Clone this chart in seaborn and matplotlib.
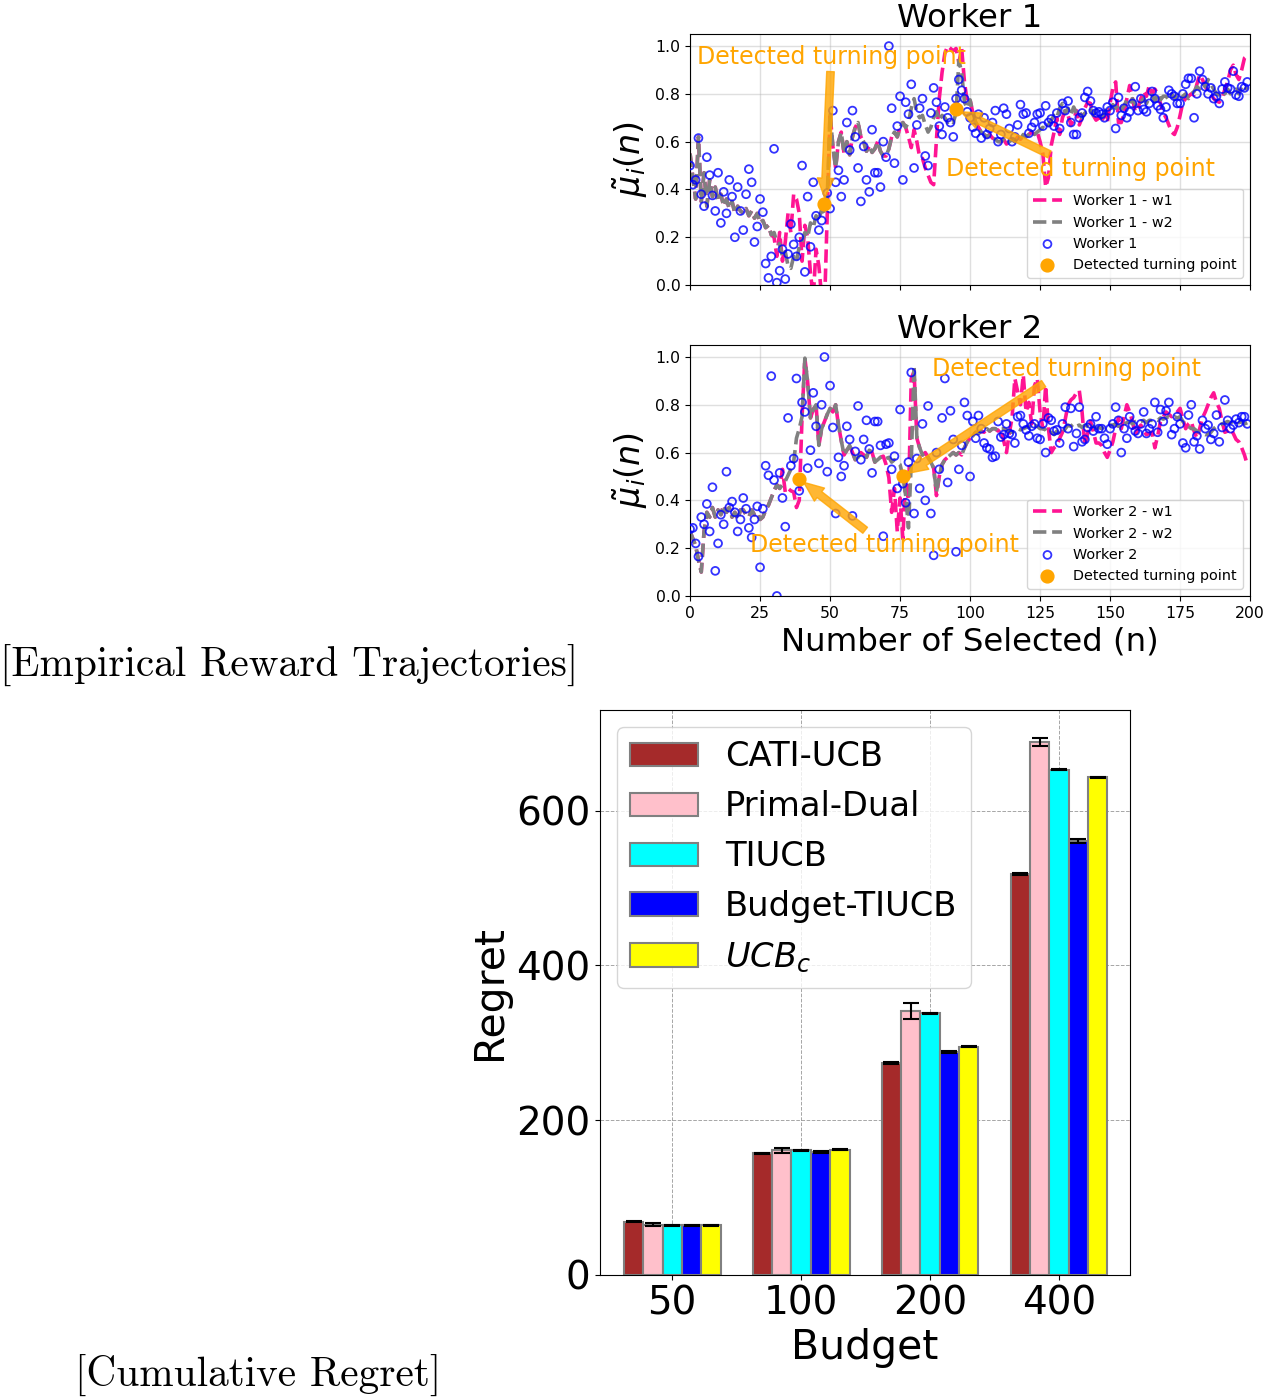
import numpy as np
import pandas as pd
import matplotlib
matplotlib.use("Agg")
import matplotlib.pyplot as plt
import seaborn as sns

# ---------------- data: empirical reward trajectories ----------------
steps = list(range(200))

w1_obs = [0.50, 0.42, 0.44, 0.615, 0.38, 0.33, 0.535, 0.46, 0.375, 0.31,
          0.47, 0.26, 0.39, 0.30, 0.44, 0.37, 0.20, 0.41, 0.31, 0.23,
          0.38, 0.485, 0.43, 0.18, 0.245, 0.36, 0.305, 0.09, 0.03, 0.12,
          0.57, 0.01, 0.06, 0.15, 0.025, 0.13, 0.255, 0.17, 0.12, 0.20,
          0.50, 0.055, 0.37, 0.16, 0.43, 0.29, 0.23, 0.27, 0.33, 0.385,
          0.32, 0.73, 0.43, 0.48, 0.37, 0.44, 0.68, 0.565, 0.73, 0.62,
          0.49, 0.35, 0.58, 0.44, 0.39, 0.65, 0.47, 0.47, 0.41, 0.60,
          0.535, 1.0, 0.74, 0.51, 0.665, 0.79, 0.44, 0.765, 0.715, 0.84,
          0.49, 0.67, 0.74, 0.78, 0.54, 0.50, 0.72, 0.825, 0.765, 0.665,
          0.63, 0.745, 0.70, 0.68, 0.62, 0.78, 0.86, 0.815, 0.78, 0.725,
          0.70, 0.66, 0.635, 0.715, 0.615, 0.70, 0.63, 0.655, 0.68, 0.73,
          0.60, 0.63, 0.74, 0.715, 0.655, 0.60, 0.62, 0.67, 0.755, 0.715,
          0.72, 0.635, 0.66, 0.68, 0.715, 0.72, 0.665, 0.75, 0.68, 0.695,
          0.665, 0.72, 0.655, 0.76, 0.73, 0.77, 0.68, 0.63, 0.63, 0.70,
          0.72, 0.785, 0.81, 0.77, 0.73, 0.72, 0.725, 0.715, 0.70, 0.745,
          0.73, 0.765, 0.655, 0.785, 0.71, 0.74, 0.70, 0.725, 0.76, 0.83,
          0.73, 0.78, 0.735, 0.725, 0.76, 0.81, 0.78, 0.75, 0.735, 0.70,
          0.745, 0.815, 0.80, 0.79, 0.76, 0.76, 0.80, 0.84, 0.865, 0.865,
          0.70, 0.80, 0.895, 0.86, 0.83, 0.80, 0.825, 0.78, 0.79, 0.76,
          0.82, 0.85, 0.825, 0.82, 0.895, 0.795, 0.79, 0.83, 0.825, 0.85]

w1_win2 = [0.55, 0.45, 0.36, 0.62, 0.35, 0.47, 0.33, 0.44, 0.37, 0.41,
           0.35, 0.38, 0.33, 0.36, 0.32, 0.35, 0.30, 0.33, 0.31, 0.30,
           0.32, 0.29, 0.31, 0.28, 0.30, 0.26, 0.27, 0.24, 0.25, 0.21,
           0.22, 0.18, 0.17, 0.12, 0.14, 0.08, 0.07, 0.12, 0.10, 0.16,
           0.18, 0.22, 0.20, 0.26, 0.24, 0.29, 0.27, 0.32, 0.30, 0.37,
           0.72, 0.58, 0.49, 0.60, 0.64, 0.55, 0.60, 0.545, 0.62, 0.66,
           0.68, 0.62, 0.60, 0.56, 0.58, 0.555, 0.57, 0.60, 0.56, 0.54,
           0.54, 0.57, 0.62, 0.64, 0.62, 0.66, 0.68, 0.66, 0.68, 0.74,
           0.78, 0.72, 0.70, 0.71, 0.67, 0.64, 0.66, 0.70, 0.725, 0.69,
           0.71, 0.70, 0.68, 0.69, 0.68, 0.72, 0.94, 0.89, 0.765, 0.74,
           0.775, 0.72, 0.68, 0.66, 0.64, 0.63, 0.62, 0.63, 0.615, 0.61,
           0.60, 0.60, 0.61, 0.59, 0.60, 0.61, 0.60, 0.62, 0.61, 0.63,
           0.62, 0.63, 0.64, 0.63, 0.64, 0.65, 0.66, 0.65, 0.67, 0.69,
           0.71, 0.70, 0.74, 0.76, 0.72, 0.74, 0.71, 0.745, 0.72, 0.73,
           0.70, 0.72, 0.725, 0.74, 0.71, 0.73, 0.725, 0.70, 0.72, 0.74,
           0.73, 0.755, 0.74, 0.76, 0.735, 0.75, 0.775, 0.76, 0.78, 0.755,
           0.77, 0.765, 0.78, 0.76, 0.785, 0.795, 0.77, 0.80, 0.775, 0.79,
           0.79, 0.775, 0.80, 0.78, 0.795, 0.775, 0.79, 0.80, 0.78, 0.80,
           0.81, 0.83, 0.82, 0.845, 0.83, 0.86, 0.84, 0.82, 0.80, 0.795,
           0.81, 0.80, 0.82, 0.80, 0.81, 0.82, 0.80, 0.83, 0.815, 0.83]

w1_win1 = [0.55, 0.45, 0.36, 0.62, 0.35, 0.47, 0.33, 0.44, 0.37, 0.41,
           0.35, 0.38, 0.33, 0.36, 0.32, 0.35, 0.30, 0.33, 0.31, 0.30,
           0.32, 0.29, 0.31, 0.28, 0.30, 0.26, 0.27, 0.24, 0.25, 0.21,
           0.20, 0.12, 0.22, 0.10, 0.18, 0.30, 0.22, 0.38, 0.36, 0.30,
           0.10, 0.25, 0.20, 0.05, -0.05, 0.15, 0.08, -0.05, -0.10, 0.30,
           0.72, 0.58, 0.49, 0.60, 0.64, 0.55, 0.60, 0.545, 0.62, 0.66,
           0.68, 0.62, 0.60, 0.56, 0.58, 0.555, 0.57, 0.60, 0.56, 0.54,
           0.54, 0.57, 0.62, 0.64, 0.62, 0.66, 0.68, 0.66, 0.62, 0.575,
           0.65, 0.60, 0.535, 0.53, 0.49, 0.46, 0.43, 0.42, 0.61, 0.78,
           0.89, 0.97, 1.0, 0.99, 0.98, 0.99, 0.93, 0.99, 0.85, 0.765,
           0.775, 0.72, 0.68, 0.66, 0.64, 0.63, 0.62, 0.63, 0.615, 0.61,
           0.60, 0.60, 0.61, 0.59, 0.60, 0.61, 0.60, 0.62, 0.61, 0.63,
           0.62, 0.63, 0.64, 0.63, 0.64, 0.60, 0.55, 0.41, 0.45, 0.585,
           0.64, 0.70, 0.63, 0.70, 0.73, 0.71, 0.67, 0.69, 0.73, 0.67,
           0.70, 0.74, 0.765, 0.76, 0.71, 0.69, 0.70, 0.68, 0.72, 0.68,
           0.76, 0.825, 0.85, 0.68, 0.68, 0.72, 0.78, 0.835, 0.78, 0.725,
           0.74, 0.78, 0.81, 0.79, 0.835, 0.80, 0.82, 0.80, 0.76, 0.72,
           0.70, 0.67, 0.64, 0.63, 0.66, 0.71, 0.765, 0.78, 0.79, 0.80,
           0.795, 0.84, 0.88, 0.86, 0.83, 0.815, 0.80, 0.78, 0.77, 0.765,
           0.78, 0.82, 0.85, 0.90, 0.92, 0.88, 0.86, 0.90, 0.95, 0.96]

w1_tp_n = [48, 95]
w1_tp_v = [0.34, 0.735]

w2_obs = [0.28, 0.285, 0.22, 0.165, 0.33, 0.30, 0.385, 0.27, 0.455, 0.105,
          0.22, 0.34, 0.30, 0.52, 0.37, 0.395, 0.35, 0.27, 0.32, 0.41,
          0.365, 0.285, 0.245, 0.32, 0.375, 0.12, 0.365, 0.545, 0.505, 0.92,
          0.485, 0.0, 0.515, 0.41, 0.29, 0.745, 0.545, 0.575, 0.91, 0.44,
          0.81, 0.77, 0.535, 0.61, 0.85, 0.71, 0.555, 0.80, 1.0, 0.52,
          0.88, 0.705, 0.345, 0.58, 0.50, 0.545, 0.71, 0.655, 0.335, 0.605,
          0.795, 0.57, 0.655, 0.735, 0.615, 0.515, 0.73, 0.73, 0.63, 0.25,
          0.635, 0.64, 0.53, 0.585, 0.45, 0.78, 0.47, 0.39, 0.56, 0.935,
          0.345, 0.575, 0.45, 0.72, 0.40, 0.795, 0.345, 0.17, 0.60, 0.53,
          0.745, 0.91, 0.475, 0.775, 0.655, 0.185, 0.53, 0.63, 0.81, 0.755,
          0.50, 0.73, 0.66, 0.755, 0.70, 0.64, 0.62, 0.615, 0.58, 0.585,
          0.73, 0.665, 0.675, 0.72, 0.68, 0.675, 0.64, 0.75, 0.755, 0.72,
          0.695, 0.67, 0.71, 0.72, 0.66, 0.655, 0.72, 0.60, 0.745, 0.735,
          0.69, 0.695, 0.64, 0.72, 0.79, 0.70, 0.785, 0.625, 0.68, 0.79,
          0.645, 0.655, 0.705, 0.72, 0.69, 0.75, 0.70, 0.70, 0.66, 0.635,
          0.70, 0.72, 0.79, 0.735, 0.60, 0.70, 0.66, 0.75, 0.715, 0.69,
          0.68, 0.72, 0.77, 0.68, 0.70, 0.72, 0.81, 0.685, 0.78, 0.73,
          0.775, 0.81, 0.675, 0.70, 0.75, 0.72, 0.64, 0.62, 0.757, 0.80,
          0.645, 0.67, 0.615, 0.735, 0.70, 0.715, 0.655, 0.68, 0.757, 0.645,
          0.705, 0.82, 0.735, 0.70, 0.715, 0.74, 0.725, 0.75, 0.75, 0.72]

w2_win2 = [0.27, 0.24, 0.21, 0.15, 0.10, 0.27, 0.35, 0.33, 0.37, 0.33,
           0.36, 0.34, 0.38, 0.35, 0.37, 0.33, 0.35, 0.32, 0.36, 0.36,
           0.34, 0.33, 0.36, 0.34, 0.35, 0.32, 0.33, 0.36, 0.38, 0.41,
           0.44, 0.465, 0.45, 0.465, 0.48, 0.505, 0.53, 0.56, 0.66, 0.70,
           0.75, 0.995, 0.895, 0.745, 0.78, 0.80, 0.63, 0.70, 0.73, 0.76,
           0.785, 0.77, 0.80, 0.715, 0.65, 0.59, 0.61, 0.63, 0.60, 0.57,
           0.58, 0.60, 0.59, 0.58, 0.61, 0.60, 0.56, 0.57, 0.58, 0.585,
           0.575, 0.58, 0.56, 0.57, 0.56, 0.55, 0.50, 0.42, 0.285, 0.56,
           0.965, 0.66, 0.62, 0.59, 0.60, 0.58, 0.56, 0.535, 0.435, 0.50,
           0.55, 0.57, 0.58, 0.59, 0.60, 0.59, 0.60, 0.59, 0.62, 0.645,
           0.66, 0.67, 0.685, 0.68, 0.69, 0.685, 0.70, 0.69, 0.70, 0.70,
           0.69, 0.70, 0.70, 0.695, 0.69, 0.685, 0.69, 0.70, 0.695, 0.70,
           0.705, 0.71, 0.70, 0.715, 0.71, 0.70, 0.70, 0.695, 0.68, 0.685,
           0.675, 0.69, 0.675, 0.68, 0.70, 0.715, 0.71, 0.72, 0.71, 0.715,
           0.705, 0.715, 0.71, 0.70, 0.71, 0.70, 0.705, 0.70, 0.71, 0.705,
           0.715, 0.715, 0.72, 0.71, 0.725, 0.72, 0.725, 0.73, 0.72, 0.73,
           0.725, 0.73, 0.735, 0.725, 0.735, 0.735, 0.74, 0.735, 0.745, 0.74,
           0.745, 0.75, 0.745, 0.75, 0.745, 0.75, 0.73, 0.72, 0.71, 0.70,
           0.70, 0.69, 0.685, 0.68, 0.675, 0.675, 0.685, 0.70, 0.71, 0.715,
           0.72, 0.725, 0.73, 0.725, 0.73, 0.735, 0.725, 0.73, 0.72, 0.725]

w2_win1 = [0.27, 0.24, 0.21, 0.15, 0.10, 0.27, 0.35, 0.33, 0.37, 0.33,
           0.36, 0.34, 0.38, 0.35, 0.37, 0.33, 0.35, 0.32, 0.36, 0.36,
           0.34, 0.33, 0.36, 0.34, 0.35, 0.32, 0.33, 0.36, 0.38, 0.41,
           0.44, 0.465, 0.45, 0.53, 0.435, 0.45, 0.44, 0.435, 0.37, 0.40,
           0.75, 0.995, 0.895, 0.745, 0.78, 0.80, 0.63, 0.70, 0.73, 0.76,
           0.785, 0.77, 0.80, 0.715, 0.65, 0.59, 0.61, 0.63, 0.60, 0.57,
           0.58, 0.60, 0.59, 0.58, 0.61, 0.60, 0.56, 0.57, 0.58, 0.585,
           0.55, 0.495, 0.35, 0.45, 0.27, 0.41, 0.24, 0.49, 0.40, 0.91,
           0.94, 0.66, 0.62, 0.59, 0.60, 0.58, 0.56, 0.535, 0.42, 0.50,
           0.55, 0.57, 0.58, 0.59, 0.60, 0.59, 0.60, 0.59, 0.62, 0.645,
           0.66, 0.67, 0.685, 0.68, 0.69, 0.685, 0.70, 0.69, 0.70, 0.70,
           0.69, 0.70, 0.65, 0.60, 0.68, 0.745, 0.91, 0.855, 0.80, 0.925,
           0.77, 0.81, 0.72, 0.88, 0.91, 0.77, 0.70, 0.88, 0.70, 0.60,
           0.62, 0.63, 0.66, 0.685, 0.74, 0.80, 0.82, 0.83, 0.85, 0.86,
           0.77, 0.63, 0.68, 0.73, 0.69, 0.64, 0.64, 0.63, 0.60, 0.58,
           0.61, 0.645, 0.70, 0.745, 0.70, 0.75, 0.80, 0.77, 0.73, 0.675,
           0.70, 0.715, 0.69, 0.675, 0.68, 0.685, 0.62, 0.67, 0.73, 0.75,
           0.77, 0.76, 0.75, 0.76, 0.77, 0.785, 0.74, 0.70, 0.72, 0.73,
           0.69, 0.66, 0.70, 0.745, 0.77, 0.80, 0.83, 0.85, 0.81, 0.785,
           0.73, 0.685, 0.69, 0.70, 0.68, 0.655, 0.645, 0.62, 0.59, 0.55]

w2_tp_n = [39, 76]
w2_tp_v = [0.49, 0.50]

# ---------------- data: cumulative regret ----------------
budgets = ["50", "100", "200", "400"]
methods = ["CATI-UCB", "Primal-Dual", "TIUCB", "Budget-TIUCB", r"$UCB_c$"]
regret_cati = [69, 157, 274, 518]
regret_primal = [65, 161, 341, 689]
regret_tiucb = [64, 161, 338, 653]
regret_budget = [64, 159, 288, 561]
regret_ucbc = [64, 162, 295, 643]
err_cati = [1.0, 1.0, 1.5, 1.0]
err_primal = [2.0, 3.5, 10.0, 5.5]
err_tiucb = [1.0, 1.0, 1.0, 1.0]
err_budget = [1.2, 1.0, 1.5, 2.5]
err_ucbc = [1.0, 1.0, 1.0, 1.0]
bar_colors = ["#A52A2A", "pink", "cyan", "blue", "yellow"]

# ---------------- figure ----------------
fig = plt.figure(figsize=(12.65, 13.98), dpi=100)

ax1 = fig.add_axes([0.5455, 0.7961, 0.4427, 0.1795])
ax2 = fig.add_axes([0.5455, 0.5737, 0.4427, 0.1795], sharex=ax1)
ax3 = fig.add_axes([0.4743, 0.0880, 0.4190, 0.4041])


def draw_worker(ax, obs, win1, win2, tp_n, tp_v, name, annotations):
    sns.lineplot(x=steps, y=win1, ax=ax, color="deeppink", linestyle="--",
                 linewidth=2.6, label=f"{name} - w1")
    sns.lineplot(x=steps, y=win2, ax=ax, color="gray", linestyle="--",
                 linewidth=2.6, label=f"{name} - w2")
    ax.scatter(steps, obs, facecolors="none", edgecolors="blue", s=32,
               linewidths=1.3, alpha=0.8, label=name, zorder=3)
    ax.scatter(tp_n, tp_v, color="orange", s=85, zorder=5,
               label="Detected turning point")
    for (i, tx, ty) in annotations:
        ax.annotate("Detected turning point", xy=(tp_n[i], tp_v[i]),
                    xytext=(tx, ty), textcoords="data", ha="center",
                    va="center", color="orange", fontsize=17,
                    arrowprops=dict(
                        arrowstyle="simple,head_length=0.85,head_width=0.7,tail_width=0.32",
                        facecolor="orange", edgecolor="orange", alpha=0.8,
                        shrinkA=0, shrinkB=4))
    ax.set_xlim(0, 200)
    ax.set_ylim(0, 1.05)
    ax.set_yticks([0.0, 0.2, 0.4, 0.6, 0.8, 1.0])
    ax.set_xticks([0, 25, 50, 75, 100, 125, 150, 175, 200])
    ax.tick_params(labelsize=11.3)
    ax.grid(True, color="#b0b0b0", alpha=0.4, linewidth=1.0)
    ax.set_title(name, fontsize=23.3, pad=5)
    ax.set_ylabel(r"$\tilde{\mu}_i(n)$", fontsize=24)
    ax.legend(loc="lower right", fontsize=10.4)


draw_worker(ax1, w1_obs, w1_win1, w1_win2, w1_tp_n, w1_tp_v, "Worker 1",
            [(0, 50.4, 0.955), (1, 139.3, 0.485)])
draw_worker(ax2, w2_obs, w2_win1, w2_win2, w2_tp_n, w2_tp_v, "Worker 2",
            [(0, 69.3, 0.213), (1, 134.3, 0.95)])
ax1.tick_params(labelbottom=False)
ax1.set_xlabel("")
ax2.set_xlabel("Number of Selected (n)", fontsize=23.3)

# ---------------- bar chart ----------------
all_vals = [regret_cati, regret_primal, regret_tiucb, regret_budget, regret_ucbc]
all_errs = [err_cati, err_primal, err_tiucb, err_budget, err_ucbc]
rows = []
for m, vals in zip(methods, all_vals):
    for b, v in zip(budgets, vals):
        rows.append({"Budget": b, "Regret": v, "Method": m})
df = pd.DataFrame(rows)

sns.barplot(data=df, x="Budget", y="Regret", hue="Method", hue_order=methods,
            order=budgets, palette=bar_colors, edgecolor="gray", linewidth=1.5,
            errorbar=None, width=0.75, saturation=1, ax=ax3)
for cont, errs in zip(ax3.containers, all_errs):
    for bar, e in zip(cont, errs):
        ax3.errorbar(bar.get_x() + bar.get_width() / 2, bar.get_height(),
                     yerr=e, color="black", capsize=6, elinewidth=1.5,
                     capthick=1.5, zorder=4)
ax3.set_xlim(-0.56, 3.55)
ax3.set_ylim(0, 730)
ax3.set_yticks([0, 200, 400, 600])
ax3.tick_params(labelsize=28)
ax3.set_xlabel("Budget", fontsize=29.5)
ax3.set_ylabel("Regret", fontsize=29.5)
ax3.grid(True, linestyle="--", color="gray", linewidth=0.7, alpha=0.7)
ax3.set_axisbelow(True)
ax3.legend(loc="upper left", fontsize=24.3)

# ---------------- captions ----------------
fig.text(0.0, 1 - 666 / 1398, "[Empirical Reward Trajectories]",
         fontfamily="cmr10", fontsize=29.7, ha="left", va="center")
fig.text(75 / 1265, 1 - 1376 / 1398, "[Cumulative Regret]",
         fontfamily="cmr10", fontsize=29.7, ha="left", va="center")

fig.savefig("out.png", dpi=100)
